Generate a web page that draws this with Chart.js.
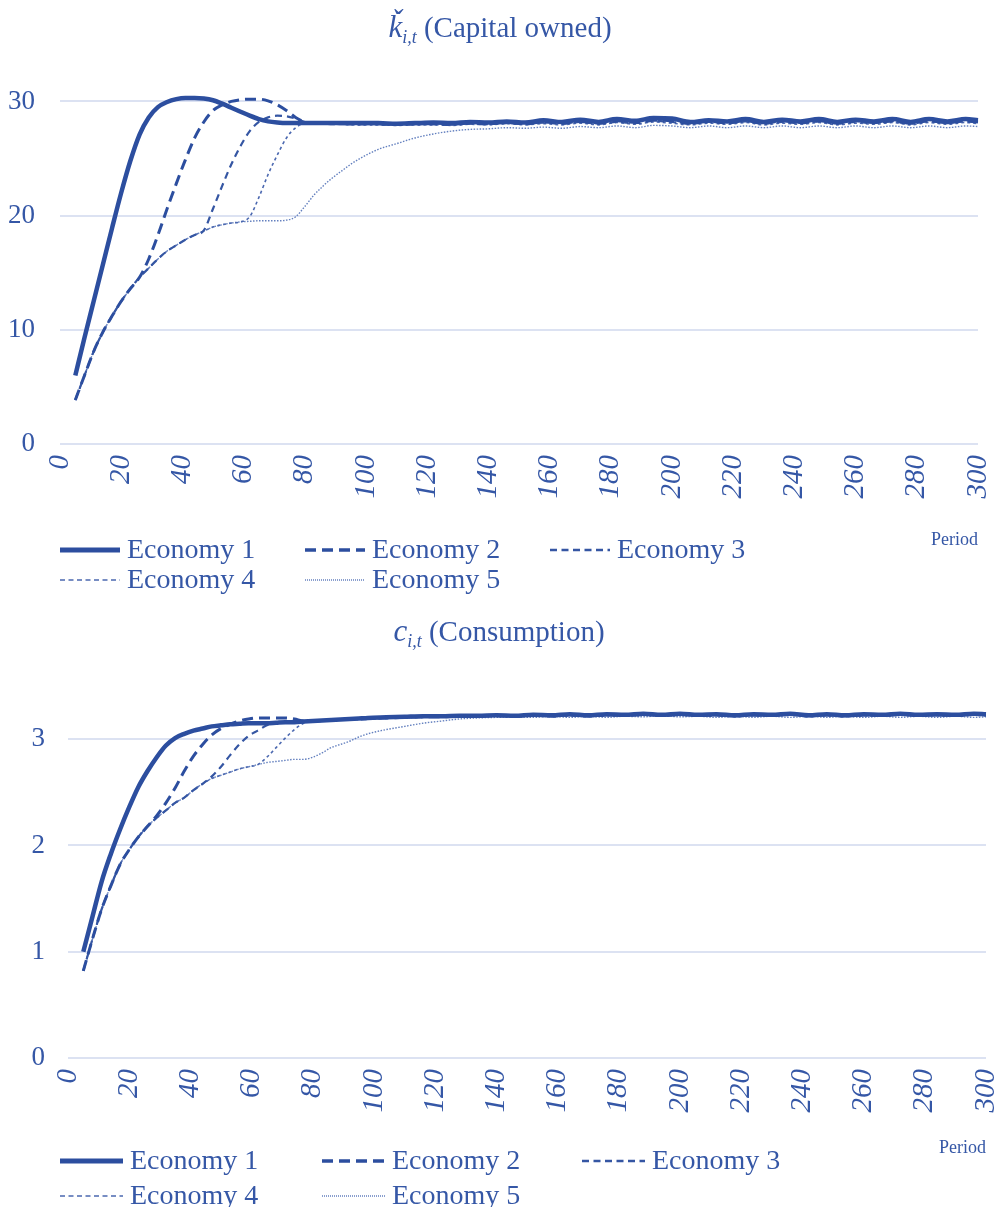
<!DOCTYPE html>
<html><head><meta charset="utf-8">
<script src="https://cdn.jsdelivr.net/npm/chart.js@4.4.1/dist/chart.umd.min.js"></script>
<style>
html,body{margin:0;padding:0;background:#fff;}
#wrap{position:relative;width:994px;height:1207px;overflow:hidden;background:#fff;}
.box{position:absolute;left:0;width:994px;}
</style></head><body>
<div id="wrap">
<div class="box" style="top:0;height:603px"><canvas id="c1" width="994" height="603"></canvas></div>
<div class="box" style="top:603px;height:604px"><canvas id="c2" width="994" height="604"></canvas></div>
</div>
<script>
// ---- data ----
const seriesNames = ['Economy 1','Economy 2','Economy 3','Economy 4','Economy 5'];
const periodTicks = [0,20,40,60,80,100,120,140,160,180,200,220,240,260,280,300];
const capitalTicks = [0,10,20,30];
const consumptionTicks = [0,1,2,3];
const periods = [5,8,11,14,17,20,23,26,29,32,35,38,41,44,47,50,53,56,59,62,65,68,71,74,77,80,83,86,89,92,95,98,
  104,110,116,122,128,134,140,146,152,158,164,170,176,182,188,194,200,206,212,218,224,230,236,242,248,254,260,266,272,278,284,290,296,300];

const capE1 = [6.0,9.3,12.5,15.7,18.9,22.0,24.8,27.1,28.6,29.5,29.95,30.2,30.3,30.3,30.25,30.1,29.8,29.45,29.1,28.75,28.45,28.25,28.15,28.1,28.1,28.1,28.1,28.1,28.1,28.1,28.1,28.1,
  28.1,28.05,28.1,28.15,28.1,28.2,28.15,28.25,28.15,28.35,28.2,28.4,28.2,28.45,28.3,28.55,28.5,28.2,28.35,28.25,28.45,28.2,28.4,28.25,28.45,28.2,28.4,28.25,28.45,28.2,28.45,28.25,28.45,28.35];
const capE2 = [3.85,6.0,8.1,9.8,11.2,12.5,13.6,14.6,16.2,18.3,20.6,22.8,24.9,26.8,28.2,29.2,29.7,30.0,30.15,30.2,30.2,30.05,29.7,29.2,28.6,28.2,28.1,28.1,28.05,28.05,28.05,28.05,
  28.05,28.0,28.05,28.05,28.0,28.1,28.05,28.15,28.05,28.2,28.1,28.25,28.1,28.3,28.15,28.35,28.3,28.1,28.25,28.15,28.3,28.1,28.3,28.15,28.3,28.1,28.3,28.15,28.3,28.1,28.3,28.15,28.3,28.2];
const capE3 = [3.85,6.0,8.1,9.8,11.2,12.5,13.6,14.6,15.4,16.2,16.9,17.4,17.9,18.3,18.7,20.6,22.6,24.5,26.1,27.4,28.2,28.6,28.75,28.7,28.5,28.2,28.1,28.05,28.05,28.0,28.0,28.0,
  28.0,27.95,28.0,28.0,27.95,28.05,28.0,28.1,28.0,28.15,28.05,28.2,28.05,28.2,28.1,28.3,28.2,28.05,28.2,28.1,28.25,28.05,28.2,28.1,28.25,28.05,28.2,28.1,28.25,28.05,28.25,28.1,28.25,28.15];
const capE4 = [3.85,6.0,8.1,9.8,11.2,12.5,13.6,14.6,15.4,16.2,16.9,17.4,17.9,18.3,18.65,19.0,19.2,19.35,19.45,19.9,21.6,23.6,25.3,26.8,27.7,28.05,28.05,28.0,28.0,28.0,27.95,27.95,
  27.95,27.9,27.95,27.95,27.9,28.0,27.95,28.05,27.95,28.05,27.95,28.1,27.95,28.15,28.0,28.2,28.1,27.95,28.1,28.0,28.15,27.95,28.1,28.0,28.15,27.95,28.1,28.0,28.15,27.95,28.15,28.0,28.15,28.05];
const capE5 = [3.85,6.0,8.1,9.8,11.2,12.5,13.6,14.6,15.4,16.2,16.9,17.4,17.9,18.3,18.65,19.0,19.2,19.35,19.45,19.5,19.55,19.55,19.55,19.6,19.9,20.8,21.8,22.6,23.3,23.9,24.5,25.0,
  25.8,26.3,26.8,27.15,27.4,27.55,27.6,27.7,27.65,27.75,27.65,27.8,27.7,27.85,27.7,27.9,27.85,27.7,27.85,27.7,27.85,27.7,27.85,27.7,27.85,27.7,27.85,27.7,27.85,27.7,27.85,27.7,27.85,27.8];

const conE1 = [1.0,1.33,1.66,1.92,2.15,2.36,2.55,2.70,2.83,2.94,3.01,3.05,3.08,3.10,3.12,3.13,3.14,3.145,3.15,3.15,3.15,3.155,3.16,3.16,3.165,3.17,3.175,3.18,3.185,3.19,3.195,3.2,
  3.205,3.21,3.215,3.215,3.22,3.22,3.225,3.22,3.23,3.225,3.235,3.225,3.235,3.23,3.24,3.23,3.24,3.23,3.235,3.225,3.235,3.23,3.24,3.225,3.235,3.225,3.235,3.23,3.24,3.23,3.235,3.23,3.24,3.235];
const conE2 = [0.82,1.12,1.40,1.62,1.82,1.96,2.08,2.18,2.28,2.40,2.54,2.70,2.84,2.95,3.04,3.10,3.14,3.17,3.19,3.2,3.2,3.2,3.2,3.19,3.17,3.17,3.175,3.18,3.185,3.19,3.19,3.195,
  3.2,3.205,3.21,3.21,3.215,3.215,3.22,3.215,3.225,3.22,3.23,3.22,3.23,3.225,3.235,3.225,3.235,3.225,3.23,3.22,3.23,3.225,3.235,3.22,3.23,3.22,3.23,3.225,3.235,3.225,3.23,3.225,3.235,3.23];
const conE3 = [0.82,1.12,1.40,1.62,1.82,1.96,2.08,2.18,2.26,2.33,2.40,2.45,2.52,2.58,2.65,2.74,2.85,2.95,3.03,3.08,3.13,3.15,3.16,3.165,3.17,3.17,3.175,3.18,3.18,3.185,3.19,3.195,
  3.2,3.205,3.21,3.21,3.215,3.215,3.22,3.215,3.22,3.215,3.225,3.215,3.225,3.22,3.23,3.22,3.23,3.22,3.225,3.215,3.225,3.22,3.23,3.215,3.225,3.215,3.225,3.22,3.23,3.22,3.225,3.22,3.23,3.225];
const conE4 = [0.82,1.12,1.40,1.62,1.82,1.96,2.08,2.18,2.26,2.33,2.40,2.45,2.52,2.58,2.63,2.66,2.69,2.72,2.74,2.76,2.83,2.92,3.01,3.09,3.15,3.17,3.17,3.175,3.18,3.18,3.185,3.19,
  3.195,3.2,3.205,3.21,3.21,3.215,3.215,3.21,3.22,3.21,3.22,3.21,3.22,3.215,3.225,3.215,3.225,3.215,3.22,3.21,3.22,3.215,3.225,3.21,3.22,3.21,3.22,3.215,3.225,3.215,3.22,3.215,3.225,3.22];
const conE5 = [0.82,1.12,1.40,1.62,1.82,1.96,2.08,2.18,2.26,2.33,2.40,2.45,2.52,2.58,2.63,2.66,2.69,2.72,2.74,2.76,2.78,2.79,2.80,2.81,2.81,2.83,2.87,2.92,2.95,2.98,3.02,3.05,
  3.09,3.12,3.15,3.17,3.19,3.2,3.205,3.21,3.205,3.215,3.205,3.215,3.205,3.215,3.21,3.22,3.21,3.215,3.205,3.215,3.205,3.215,3.205,3.215,3.205,3.215,3.205,3.215,3.205,3.215,3.205,3.215,3.205,3.21];

// ---- styles ----
const FONT = "'Liberation Serif', 'Times New Roman', serif";
const TEXT = '#3557A6';
const LINE = '#2C4E9F';
const GRID = '#DCE2F2';
const lineStyles = [
  {w:4.5, dash:[], color:LINE, lw:5, ldash:[]},
  {w:3, dash:[11,6], color:LINE, lw:3.5, ldash:[11,6]},
  {w:2.2, dash:[7,5], color:'#3556A3', lw:2.5, ldash:[7,4.5]},
  {w:1.6, dash:[3,3], color:'#4B68B0', lw:1.5, ldash:[5,3.5]},
  {w:1.4, dash:[1.5,1.5], color:'#6480BF', lw:1.5, ldash:[1,1]}
];

Chart.defaults.font.family = FONT;
Chart.defaults.color = TEXT;

const decor = {
  id: 'decor',
  afterDraw(chart, args, o) {
    const ctx = chart.ctx;
    ctx.save();
    let total = 0;
    o.title.forEach(p => { ctx.font = p.font; p.w = ctx.measureText(p.text).width; total += p.w; });
    let x = o.titleX - total / 2;
    ctx.fillStyle = TEXT; ctx.textAlign = 'left'; ctx.textBaseline = 'alphabetic';
    o.title.forEach(p => { ctx.font = p.font; ctx.fillText(p.text, x, o.titleY + (p.dy || 0)); x += p.w; });
    chart.data.datasets.forEach((ds, i) => {
      const [x0, y0] = o.legendPos[i];
      const st = lineStyles[i];
      ctx.beginPath();
      ctx.setLineDash(st.ldash);
      ctx.lineWidth = st.lw;
      ctx.strokeStyle = st.color;
      ctx.moveTo(x0, y0); ctx.lineTo(x0 + o.sample, y0); ctx.stroke();
      ctx.setLineDash([]);
      ctx.font = '28px ' + FONT;
      ctx.fillStyle = TEXT;
      ctx.textBaseline = 'middle';
      ctx.fillText(ds.label, x0 + o.sample + o.gap, y0 + 1);
    });
    ctx.restore();
  }
};

function makeDatasets(arrs) {
  return arrs.map((arr, i) => ({
    label: seriesNames[i],
    data: periods.map((t, k) => ({x: t, y: arr[k]})),
    borderColor: lineStyles[i].color,
    borderWidth: lineStyles[i].w,
    borderDash: lineStyles[i].dash,
    pointRadius: 0,
    fill: false,
    cubicInterpolationMode: 'monotone',
    clip: false
  }));
}

function makeChart(id, arrs, yTicks, yMax, opts) {
  return new Chart(document.getElementById(id), {
    type: 'line',
    data: { datasets: makeDatasets(arrs) },
    options: {
      responsive: false,
      animation: false,
      events: [],
      layout: { padding: opts.padding },
      plugins: {
        legend: { display: false },
        title: { display: false },
        tooltip: { enabled: false },
        decor: opts.decor
      },
      scales: {
        x: {
          type: 'linear', min: 0, max: 300,
          afterBuildTicks: s => { s.ticks = periodTicks.map(v => ({value: v})); },
          grid: { display: false, drawTicks: false },
          border: { display: false },
          ticks: { autoSkip: false, minRotation: 90, maxRotation: 90, padding: 11,
                   font: { size: 29, style: 'italic', family: FONT, lineHeight: 1 }, color: TEXT },
          title: { display: true, text: 'Period', align: 'end', padding: {top: 0, bottom: 0},
                   font: { size: 18, family: FONT, lineHeight: 1.2 }, color: TEXT },
          afterFit: s => { s.height = opts.xHeight; s.paddingLeft = 0; s.paddingRight = 0; }
        },
        y: {
          type: 'linear', min: 0, max: yMax,
          afterBuildTicks: s => { s.ticks = yTicks.map(v => ({value: v})); },
          grid: { color: GRID, lineWidth: 2, drawTicks: false },
          border: { display: false },
          ticks: { padding: opts.yPad, font: { size: 27, family: FONT }, color: TEXT },
          afterFit: s => { s.width = opts.yWidth; }
        }
      }
    },
    plugins: [decor]
  });
}

makeChart('c1', [capE1, capE2, capE3, capE4, capE5], capitalTicks, 31, {
  padding: { top: 90, left: 0, right: 16, bottom: 52 },
  xHeight: 107, yWidth: 60, yPad: 25,
  decor: {
    titleX: 500, titleY: 37,
    title: [
      { text: 'ǩ', font: 'italic 31px ' + FONT },
      { text: 'i,t', font: 'italic 18px ' + FONT, dy: 6 },
      { text: ' (Capital owned)', font: '29px ' + FONT }
    ],
    sample: 60, gap: 7,
    legendPos: [[60, 550], [305, 550], [550, 550], [60, 580], [305, 580]]
  }
});

makeChart('c2', [conE1, conE2, conE3, conE4, conE5], consumptionTicks, 3.5, {
  padding: { top: 83, left: 0, right: 8, bottom: 48 },
  xHeight: 101, yWidth: 68, yPad: 23,
  decor: {
    titleX: 499, titleY: 38,
    title: [
      { text: 'c', font: 'italic 31px ' + FONT },
      { text: 'i,t', font: 'italic 18px ' + FONT, dy: 6 },
      { text: ' (Consumption)', font: '29px ' + FONT }
    ],
    sample: 63, gap: 7,
    legendPos: [[60, 558], [322, 558], [582, 558], [60, 593], [322, 593]]
  }
});
</script>
</body></html>
